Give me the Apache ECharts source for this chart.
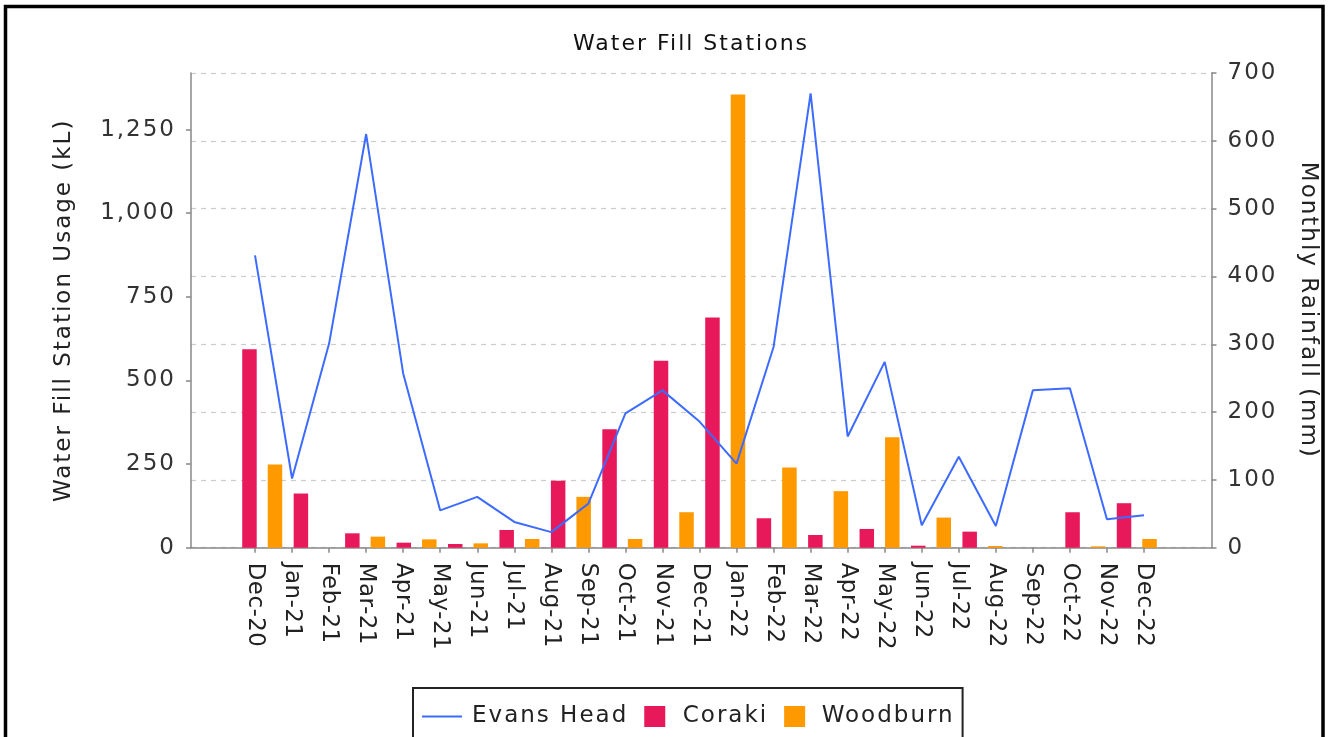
<!DOCTYPE html>
<html>
<head>
<meta charset="utf-8">
<script src="https://cdn.jsdelivr.net/npm/echarts@6/dist/echarts.min.js"></script>
<style>
  html, body { margin: 0; padding: 0; background: #fff; }
  #chart { width: 1330px; height: 737px; }
</style>
</head>
<body>
<div id="chart"></div>
<script>
// ---- data ----
const months = ['Dec-20','Jan-21','Feb-21','Mar-21','Apr-21','May-21','Jun-21','Jul-21','Aug-21','Sep-21','Oct-21','Nov-21','Dec-21',
                'Jan-22','Feb-22','Mar-22','Apr-22','May-22','Jun-22','Jul-22','Aug-22','Sep-22','Oct-22','Nov-22','Dec-22'];
// Monthly rainfall (mm), right axis
const evansHead = [431,102,301,610,257,55,75,38,23,65,198,232,186,124,296,670,164,274,33,134,32,232,235,42,48];
// Bar groups (the bar dataset has 18 groups spread across the plot)
const barGroups = ['1','2','3','4','5','6','7','8','9','10','11','12','13','14','15','16','17','18'];
const coraki   = [593,162,43,15,11,53,200,354,559,688,88,38,56,6,48,0,106,133];
const woodburn = [249,0,33,25,13,26,152,26,106,1355,240,169,330,90,5,0,4,26];
// Axis ticks
const usageTicks = [0,250,500,750,1000,1250];
const usageMax = 1419;
const rainMax = 700;
const rainInterval = 100;

// The reference text is drawn with loose tracking; emulate with canvas letterSpacing.
(function () {
  const P = CanvasRenderingContext2D.prototype;
  if (!('letterSpacing' in P)) return;
  const pick = ctx => (/22\.9px/.test(ctx.font) ? '0.5px' : '2px');
  const f = P.fillText, s = P.strokeText, m = P.measureText;
  P.fillText = function () { this.letterSpacing = pick(this); return f.apply(this, arguments); };
  P.strokeText = function () { this.letterSpacing = pick(this); return s.apply(this, arguments); };
  P.measureText = function () { this.letterSpacing = pick(this); return m.apply(this, arguments); };
})();

const FONT = "'DejaVu Sans', Verdana, sans-serif";
const AXIS_GREY = '#888888';

const chart = echarts.init(document.getElementById('chart'), null, { renderer: 'canvas' });

const option = {
  animation: false,
  backgroundColor: '#ffffff',
  textStyle: { fontFamily: FONT },
  title: {
    text: 'Water Fill Stations',
    left: 686,
    textAlign: 'center',
    top: 27,
    textStyle: { fontFamily: FONT, fontSize: 22, fontWeight: 'normal', color: '#111' }
  },
  legend: {
    left: 413,
    top: 688,
    orient: 'horizontal',
    borderColor: '#222',
    borderWidth: 2,
    padding: [16, 8, 30, 8],
    itemGap: 16,
    itemWidth: 40,
    itemHeight: 21,
    symbolKeepAspect: true,
    textStyle: { fontFamily: FONT, fontSize: 23, color: '#222', padding: [0, 0, 0, 5] },
    data: [
      { name: 'Evans Head', itemStyle: { opacity: 0 } },
      { name: 'Coraki', icon: 'path://M0,0L20,0L20,20L0,20Z', textStyle: { padding: [0, 0, 0, 3] } },
      { name: 'Woodburn', icon: 'path://M0,0L20,0L20,20L0,20Z', textStyle: { padding: [0, 0, 0, 2] } }
    ]
  },
  graphic: [
    {
      type: 'rect',
      silent: true,
      shape: { x: 5.5, y: 6.5, width: 1317.5, height: 800 },
      style: { fill: 'none', stroke: '#000', lineWidth: 3.5 },
      z: 100
    }
  ],
  grid: [
    { left: 191, right: 118.5, top: 73, bottom: 189.3 },
    { left: 236.5, right: 167.5, top: 73, bottom: 189.3 }
  ],
  xAxis: [
    {
      gridIndex: 0, type: 'value', min: 0, max: 1,
      axisLine: { show: true, lineStyle: { color: AXIS_GREY, width: 1.5 } },
      axisTick: { show: false }, axisLabel: { show: false }, splitLine: { show: false }
    },
    {
      gridIndex: 1, type: 'category', data: months, boundaryGap: true,
      axisLine: { show: false },
      axisTick: { show: true, alignWithLabel: true, interval: 0, length: 5, lineStyle: { color: AXIS_GREY, width: 1.5 } },
      axisLabel: { interval: 0, rotate: -90, margin: 15, fontFamily: FONT, fontSize: 22.9, color: '#222' },
      splitLine: { show: false }
    },
    {
      gridIndex: 1, type: 'category', data: barGroups, boundaryGap: true, show: false
    }
  ],
  yAxis: [
    {
      gridIndex: 0, type: 'value', position: 'left', min: 0, max: usageMax,
      name: 'Water Fill Station Usage (kL)', nameLocation: 'middle', nameRotate: 90, nameGap: 114,
      nameTextStyle: { fontFamily: FONT, fontSize: 23, color: '#222' },
      axisLine: { show: true, lineStyle: { color: AXIS_GREY, width: 1.5 } },
      axisTick: { show: true, length: 5, customValues: usageTicks, lineStyle: { color: AXIS_GREY, width: 1.5 } },
      axisLabel: {
        customValues: usageTicks, margin: 15, fontFamily: FONT, fontSize: 23, color: '#333',
        formatter: v => v.toLocaleString('en-US')
      },
      splitLine: { show: false }
    },
    {
      gridIndex: 0, type: 'value', position: 'right', min: 0, max: rainMax, interval: rainInterval,
      name: 'Monthly Rainfall (mm)', nameLocation: 'middle', nameRotate: -90, nameGap: 84,
      nameTextStyle: { fontFamily: FONT, fontSize: 23, color: '#222' },
      axisLine: { show: true, lineStyle: { color: AXIS_GREY, width: 1.5 } },
      axisTick: { show: true, length: 5, lineStyle: { color: AXIS_GREY, width: 1.5 } },
      axisLabel: { margin: 16, fontFamily: FONT, fontSize: 23, color: '#333' },
      splitLine: { show: true, lineStyle: { color: '#cccccc', type: [5, 5], width: 1.2 } }
    },
    { gridIndex: 1, type: 'value', min: 0, max: usageMax, show: false, splitLine: { show: false } },
    { gridIndex: 1, type: 'value', min: 0, max: rainMax, show: false, splitLine: { show: false } }
  ],
  series: [
    {
      name: 'Evans Head', type: 'line', xAxisIndex: 1, yAxisIndex: 3,
      data: evansHead, symbol: 'none', showSymbol: false,
      lineStyle: { color: '#3d6bff', width: 2 }, itemStyle: { color: '#3d6bff' }, z: 5
    },
    {
      name: 'Coraki', type: 'bar', xAxisIndex: 2, yAxisIndex: 2,
      data: coraki, barWidth: 14.5, barGap: '76%',
      itemStyle: { color: '#e8195a' }, z: 2
    },
    {
      name: 'Woodburn', type: 'bar', xAxisIndex: 2, yAxisIndex: 2,
      data: woodburn, barWidth: 14.5, barGap: '76%',
      itemStyle: { color: '#ff9900' }, z: 2
    }
  ]
};
chart.setOption(option);
</script>
</body>
</html>
